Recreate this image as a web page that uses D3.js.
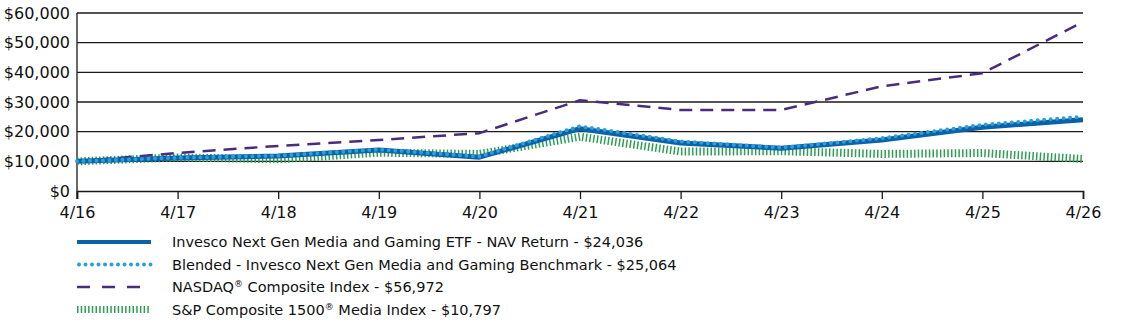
<!DOCTYPE html>
<html>
<head>
<meta charset="utf-8">
<script src="https://cdn.jsdelivr.net/npm/d3@7/dist/d3.min.js"></script>
<style>
  body { margin: 0; background: #fff; }
  svg text { font-family: "DejaVu Sans", sans-serif; fill: #111; }
</style>
</head>
<body>
<svg id="chart" width="1123" height="327"></svg>
<script>
var years = ["4/16", "4/17", "4/18", "4/19", "4/20", "4/21", "4/22", "4/23", "4/24", "4/25", "4/26"];
var navValues = [10000, 11100, 11800, 13800, 11400, 21000, 16200, 14400, 17200, 21500, 24036];
var blendedValues = [10000, 11200, 11900, 14000, 11600, 21800, 16700, 14600, 17800, 22300, 25064];
var nasdaqValues = [10000, 12800, 15200, 17200, 19500, 30600, 27300, 27300, 35300, 39700, 56972];
var mediaValues = [10000, 11300, 10700, 12900, 12500, 18300, 13300, 13400, 12500, 12800, 10797];
var yTicks = [0, 10000, 20000, 30000, 40000, 50000, 60000];

// [text before the mark, text after] ; ® is drawn as superscript
var legendNames = [
    ["Invesco Next Gen Media and Gaming ETF - NAV Return - $24,036", ""],
    ["Blended - Invesco Next Gen Media and Gaming Benchmark - $25,064", ""],
    ["NASDAQ", " Composite Index - $56,972"],
    ["S&P Composite 1500", " Media Index - $10,797"]
];

var svg = d3.select("#chart"),
    margins = { top: 13, left: 77, right: 40, bottom: 136 },
    width = 1123,
    height = 327;

var xRange = d3.scalePoint().domain(years).range([margins.left, width - margins.right]);
var yRange = d3.scaleLinear().domain([0, 60000]).range([height - margins.bottom, margins.top]);

// gridlines
svg.append("g")
    .selectAll("line")
    .data(yTicks.slice(1))
    .enter().append("line")
    .attr("x1", margins.left)
    .attr("x2", width - margins.right)
    .attr("y1", function (d) { return yRange(d); })
    .attr("y2", function (d) { return yRange(d); })
    .attr("stroke", "#1a1a1a")
    .attr("stroke-width", 1.3);

var xAxis = d3.axisBottom(xRange).tickSize(8).tickPadding(7);
var gx = svg.append("g")
    .attr("transform", "translate(0," + yRange(0) + ")")
    .call(xAxis);
gx.select(".domain").attr("stroke", "#1a1a1a").attr("stroke-width", 1.6);
gx.selectAll(".tick line").attr("stroke", "#1a1a1a").attr("stroke-width", 1.3);
gx.selectAll("text").style("font-size", "16px").attr("dy", "0.75em");

var yAxis = d3.axisLeft(yRange)
    .tickValues(yTicks)
    .tickSize(0)
    .tickPadding(7)
    .tickFormat(function (d) { return "$" + d3.format(",")(d); });
var gy = svg.append("g")
    .attr("transform", "translate(" + margins.left + ",0)")
    .call(yAxis);
gy.select(".domain").remove();
gy.selectAll("text").style("font-size", "16px");

svg.append("line")
    .attr("x1", margins.left).attr("x2", margins.left)
    .attr("y1", yRange(60000)).attr("y2", yRange(0) + 8)
    .attr("stroke", "#1a1a1a").attr("stroke-width", 1.3);

var series = [
    { values: mediaValues, color: "#2f9e55", width: 8, dash: "1.5,2.2", cap: "butt" },
    { values: nasdaqValues, color: "#4a2c7c", width: 2.5, dash: "13,8", cap: "butt" },
    { values: navValues, color: "#0b62a8", width: 5, dash: null, cap: "butt" },
    { values: blendedValues, color: "#2a9fd8", width: 4, dash: "0,6.5", cap: "round" }
];

var lineFunc = function (vals) {
    return d3.line()
        .x(function (d, i) { return xRange(years[i]); })
        .y(function (d) { return yRange(d); })(vals);
};

series.forEach(function (s) {
    svg.append("path")
        .attr("d", lineFunc(s.values))
        .attr("fill", "none")
        .attr("stroke", s.color)
        .attr("stroke-width", s.width)
        .attr("stroke-dasharray", s.dash)
        .attr("stroke-linecap", s.cap)
        .attr("stroke-linejoin", "round");
});

// legend, same order as the reference
var legendStyles = [series[2], series[3], series[1], series[0]];
var legend = svg.append("g");
legendNames.forEach(function (name, i) {
    var y = 242 + i * 22.5;
    var st = legendStyles[i];
    legend.append("line")
        .attr("x1", st.cap === "round" ? 79 : 77).attr("x2", 151)
        .attr("y1", y).attr("y2", y)
        .attr("stroke", st.color)
        .attr("stroke-width", st === series[2] ? 4 : (st === series[0] ? 7 : st.width))
        .attr("stroke-dasharray", st === series[1] ? "13,12" : st.dash)
        .attr("stroke-linecap", st.cap);
    var t = legend.append("text")
        .attr("x", 172).attr("y", y + 5)
        .style("font-size", "14.5px");
    t.append("tspan").text(name[0]);
    if (name[1]) {
        t.append("tspan").attr("dy", -5).style("font-size", "9px").text("\u00AE");
        t.append("tspan").attr("dy", 5).text(name[1]);
    }
});
</script>
</body>
</html>
